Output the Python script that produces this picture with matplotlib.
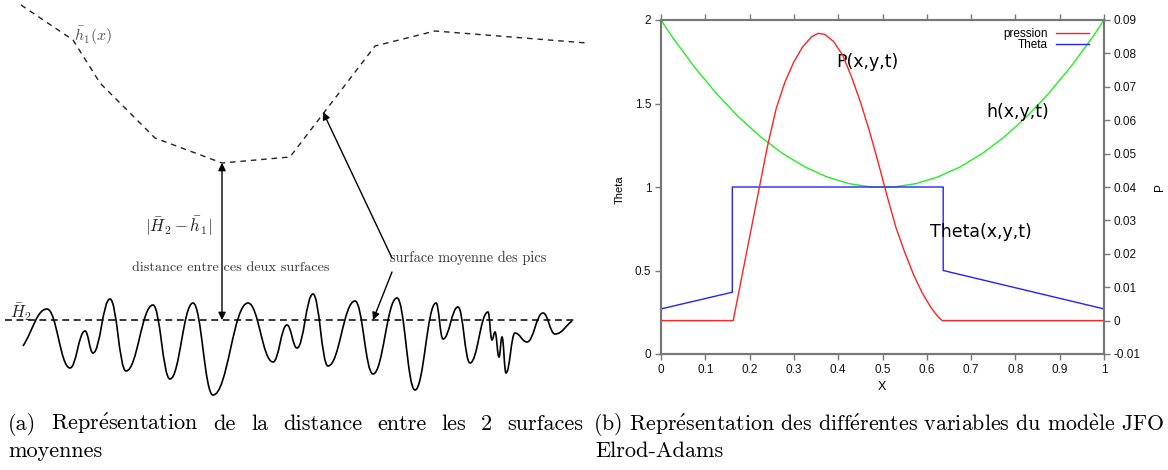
import numpy as np
import matplotlib
matplotlib.use('Agg')
import matplotlib.pyplot as plt
from matplotlib.path import Path
from matplotlib.patches import PathPatch
from matplotlib.ticker import FuncFormatter

plt.rcParams['mathtext.fontset'] = 'cm'

# ---------------- panel (a): schematic drawing (figure pixel coordinates) -------------
h1_x = [21, 73, 100, 155, 222, 290, 375, 435, 587]
h1_y = [5, 40, 83, 138, 163, 157, 46, 31, 43]
H2_level = 320
H2_span = [5, 575]
surf_x = [23, 47, 70, 85, 93, 110, 126, 153, 170, 193, 213, 248, 273, 287, 297,
          313, 328, 355, 373, 397, 415, 436, 443, 458, 470, 488, 492, 495, 499,
          502, 506, 515, 527, 543, 555, 572]
surf_y = [346, 309, 368, 331, 353, 299, 371, 305, 379, 303, 395, 303, 362, 325, 348,
          294, 366, 301, 374, 298, 390, 303, 339, 307, 363, 312, 340, 332, 357,
          337, 373, 333, 342, 313, 334, 321]

# ---------------- panel (b): JFO / Elrod-Adams variables -------------
h_x = [0, 0.025, 0.05, 0.075, 0.1, 0.125, 0.15, 0.175, 0.2, 0.225, 0.25, 0.275,
       0.3, 0.325, 0.35, 0.375, 0.4, 0.425, 0.45, 0.475, 0.5,
       0.525, 0.55, 0.575, 0.6, 0.625, 0.65, 0.675, 0.7, 0.725, 0.75, 0.775,
       0.8, 0.825, 0.85, 0.875, 0.9, 0.925, 0.95, 0.975, 1.0]
h_vals = [2.0, 1.9, 1.81, 1.72, 1.64, 1.56, 1.49, 1.42, 1.36, 1.3, 1.25, 1.2,
          1.16, 1.12, 1.09, 1.06, 1.04, 1.02, 1.01, 1.0, 1.0,
          1.0, 1.01, 1.02, 1.04, 1.06, 1.09, 1.12, 1.16, 1.2, 1.25, 1.3,
          1.36, 1.42, 1.49, 1.56, 1.64, 1.72, 1.81, 1.9, 2.0]
theta_x = [0, 0.161, 0.161, 0.637, 0.637, 1.0]
theta_vals = [0.27, 0.37, 1.0, 1.0, 0.5, 0.27]
p_x = [0, 0.163, 0.18, 0.20, 0.22, 0.24, 0.26, 0.28, 0.30, 0.32, 0.34, 0.355,
       0.37, 0.39, 0.41, 0.43, 0.45, 0.47, 0.49, 0.51, 0.53, 0.55, 0.57, 0.59,
       0.61, 0.625, 0.635, 1.0]
p_vals = [0, 0, 0.0115, 0.025, 0.0385, 0.052, 0.0635, 0.0715, 0.0775, 0.082, 0.085,
          0.086, 0.0857, 0.0835, 0.0795, 0.073, 0.0655, 0.057, 0.0475, 0.0375,
          0.028, 0.0205, 0.0138, 0.0082, 0.0038, 0.0012, 0, 0]
x_ticks = [0, 0.1, 0.2, 0.3, 0.4, 0.5, 0.6, 0.7, 0.8, 0.9, 1.0]
theta_ticks = [0, 0.5, 1, 1.5, 2]
p_ticks = [-0.01, 0, 0.01, 0.02, 0.03, 0.04, 0.05, 0.06, 0.07, 0.08, 0.09]

W, H = 1168, 470
fig = plt.figure(figsize=(W / 100, H / 100), dpi=100)

ax0 = fig.add_axes([0, 0, 1, 1])
ax0.set_xlim(0, W)
ax0.set_ylim(H, 0)
ax0.axis('off')

# mean surface h1 (dashed)
ax0.plot(h1_x, h1_y, color='#222222', lw=1.0, ls=(0, (4, 3.5)))
# mean level H2 (dashed)
ax0.plot(H2_span, [H2_level, H2_level], color='black', lw=1.1, ls=(0, (4.5, 3)))

# rough surface drawn as smooth Bezier through its extrema
verts = [(surf_x[0], surf_y[0])]
codes = [Path.MOVETO]
k = 0.42
n = len(surf_x)
for i in range(n - 1):
    x0, y0, x1, y1 = surf_x[i], surf_y[i], surf_x[i + 1], surf_y[i + 1]
    dx = x1 - x0
    c1 = (x0 + dx * k, y0 + (y1 - y0) * k) if i == 0 else (x0 + dx * k, y0)
    c2 = (x1 - dx * k, y1 - (y1 - y0) * k) if i == n - 2 else (x1 - dx * k, y1)
    verts += [c1, c2, (x1, y1)]
    codes += [Path.CURVE4] * 3
ax0.add_patch(PathPatch(Path(verts, codes), fill=False, lw=1.2, ec='black'))

arr = dict(color='black', lw=1.0, shrinkA=0, shrinkB=0, mutation_scale=11)
ax0.annotate('', xy=(222, 163), xytext=(222, 320), arrowprops=dict(arrowstyle='<|-|>', **arr))
ax0.annotate('', xy=(323, 112), xytext=(392, 258), arrowprops=dict(arrowstyle='-|>', **arr))
ax0.annotate('', xy=(373, 320), xytext=(392, 272), arrowprops=dict(arrowstyle='-|>', **arr))

cm = ['cmr10', 'DejaVu Serif']
ax0.text(74, 36, r'$\bar{h}_1(x)$', fontsize=11.5, color='#555555', ha='left', va='center')
ax0.text(178, 226, r'$|\bar{H}_2-\bar{h}_1|$', fontsize=12, color='#222222', ha='center', va='center')
ax0.text(10, 312, r'$\bar{H}_2$', fontsize=12, color='#222222', ha='left', va='center')
ax0.text(132, 268, 'distance entre ces deux surfaces', family=cm, fontsize=10.2,
         color='#333333', ha='left', va='center')
ax0.text(390, 258, 'surface moyenne des pics', family=cm, fontsize=10.3,
         color='#333333', ha='left', va='center')

# ---------------- chart (b) ----------------
L, R, T, B = 661, 1104, 20, 354
ax = fig.add_axes([L / W, (H - B) / H, (R - L) / W, (B - T) / H])
ax2 = ax.twinx()
grey = '#777777'
fmt = FuncFormatter(lambda v, p: '%g' % v)

lh, = ax.plot(h_x, h_vals, color='#22ee22', lw=1.0)
lt, = ax.plot(theta_x, theta_vals, color='#2222ff', lw=1.0)
lp, = ax2.plot(p_x, p_vals, color='#ff2222', lw=1.0)

ax.set_xlim(0, 1)
ax.set_ylim(0, 2)
ax2.set_ylim(-0.01, 0.09)
ax.set_xticks(x_ticks)
ax.set_yticks(theta_ticks)
ax2.set_yticks(p_ticks)
for a in (ax, ax2):
    for s in a.spines.values():
        s.set_color(grey)
        s.set_linewidth(1.5)
ax.xaxis.set_major_formatter(fmt)
ax.yaxis.set_major_formatter(fmt)
ax2.yaxis.set_major_formatter(fmt)
tk = dict(direction='out', length=4, width=1.0, color=grey, labelsize=8.5,
          labelcolor='#111111', pad=3)
ax.tick_params(axis='x', top=True, bottom=True, **tk)
ax.tick_params(axis='y', left=True, right=False, **tk)
ax2.tick_params(axis='y', right=True, **tk)
for lab in ax.get_xticklabels() + ax.get_yticklabels() + ax2.get_yticklabels():
    lab.set_family(['Liberation Sans', 'DejaVu Sans'])

leg = ax.legend([lp, lt], ['pression', 'Theta'], loc='upper right', frameon=False,
                markerfirst=False, prop={'family': 'Liberation Sans', 'size': 8.5},
                handlelength=2.8, handletextpad=0.7, labelspacing=-0.1,
                borderaxespad=0.3, bbox_to_anchor=(0.985, 1.0))

ax.text(0.395, 1.749, 'P(x,y,t)', fontsize=12.5, ha='left', va='center', color='black')
ax.text(0.734, 1.451, 'h(x,y,t)', fontsize=12.5, ha='left', va='center', color='black')
ax.text(0.607, 0.730, 'Theta(x,y,t)', fontsize=12.5, ha='left', va='center', color='black')

sans = ['Liberation Sans', 'DejaVu Sans']
ax0.text(620, 190, 'Theta', rotation=90, family=sans, fontsize=8, ha='center', va='center')
ax0.text(1160, 187, 'P', rotation=90, family=sans, fontsize=8.5, ha='center', va='center')
ax0.text(882, 387, 'X', family=sans, fontsize=9, ha='center', va='center')

# ---------------- captions ----------------
cap_size = 16
ea = r'$\acute{\mathrm{e}}$'
eg = r'$\grave{\mathrm{e}}$'
fig.canvas.draw()
rend = fig.canvas.get_renderer()
words = ['(a)', 'Repr' + ea + 'sentation', 'de', 'la', 'distance', 'entre', 'les', '2', 'surfaces']
objs = [ax0.text(0, 430, w, family=cm, fontsize=cap_size, ha='left', va='baseline') for w in words]
widths = [o.get_window_extent(rend).width for o in objs]
x_start, x_end = 8, 583
gap = (x_end - x_start - sum(widths)) / (len(words) - 1)
xc = x_start
for o, w in zip(objs, widths):
    o.set_x(xc)
    xc += w + gap
ax0.text(8, 457, 'moyennes', family=cm, fontsize=cap_size, ha='left', va='baseline')
cap_b = ax0.text(593, 430, '(b) Repr' + ea + 'sentation des diff' + ea + 'rentes variables du mod'
                 + eg + 'le JFO', family=cm, fontsize=cap_size, ha='left', va='baseline')
wb = cap_b.get_window_extent(rend).width
avail = W - 3 - 593
if wb > avail:
    cap_b.set_fontsize(cap_size * avail / wb)
ax0.text(595, 457, 'Elrod-Adams', family=cm, fontsize=cap_size, ha='left', va='baseline')

fig.savefig('out.png', dpi=100)
